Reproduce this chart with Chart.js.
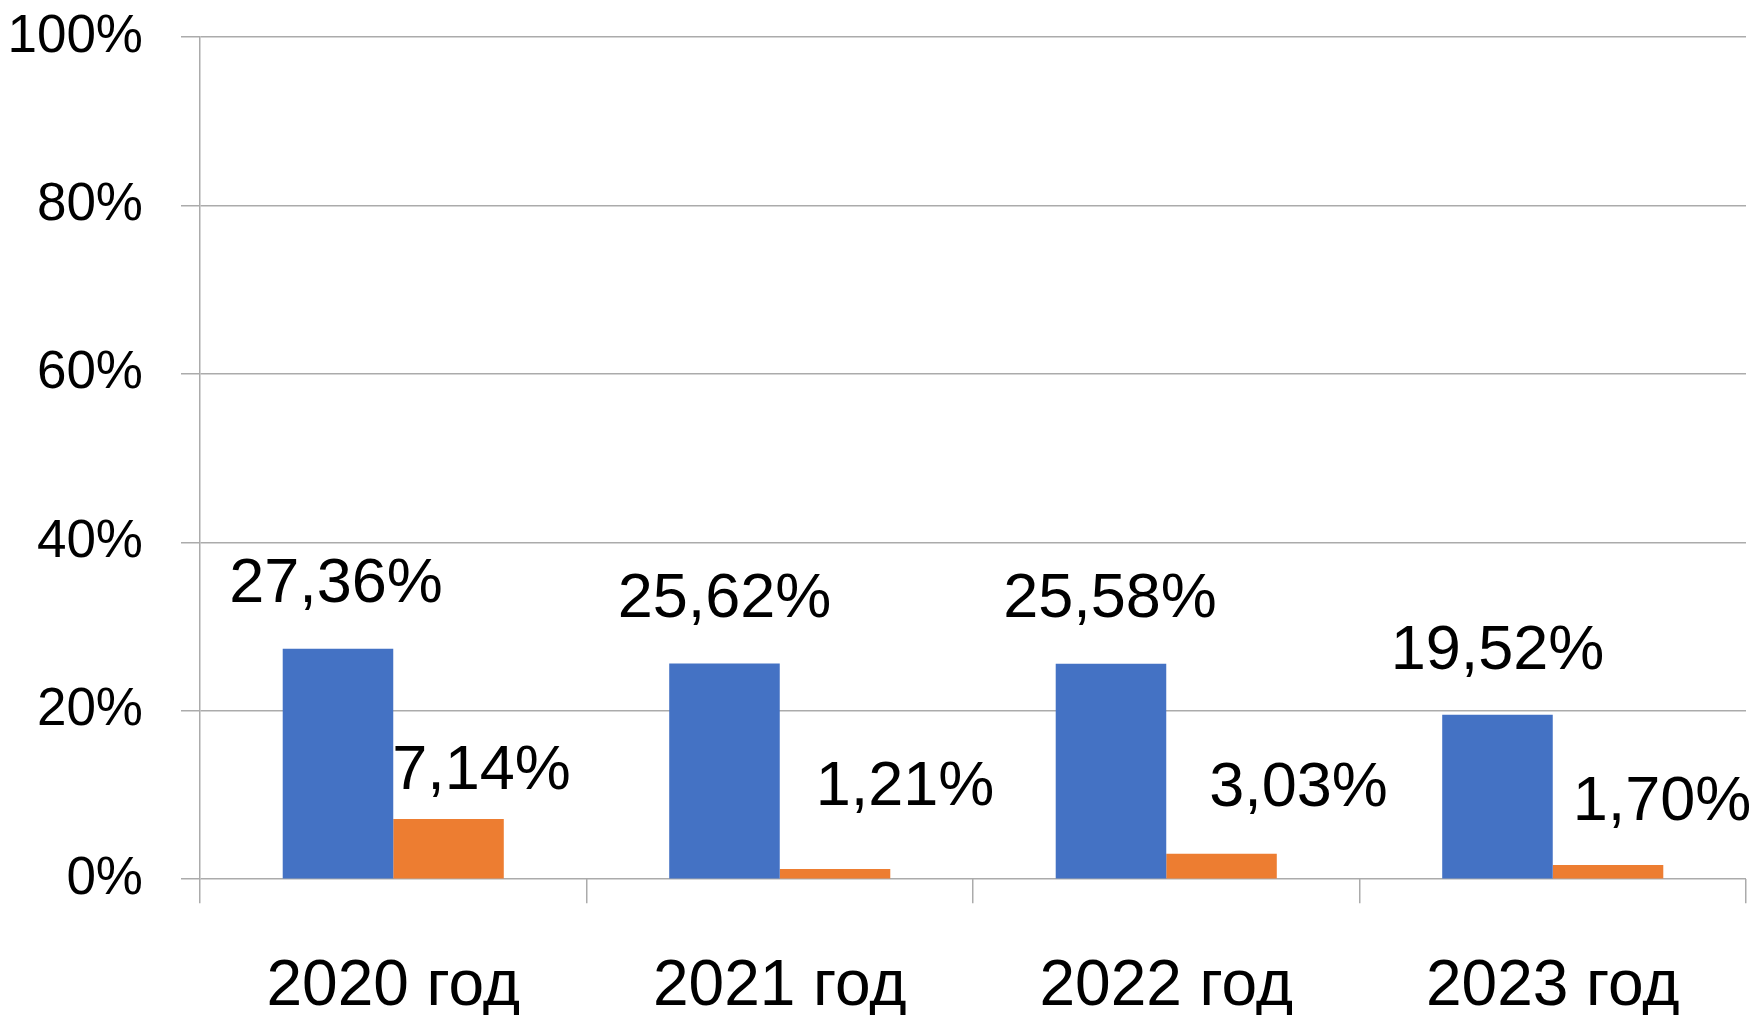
<!DOCTYPE html>
<html lang="ru">
<head>
<meta charset="utf-8">
<title>2020–2023</title>
<script src="https://cdn.jsdelivr.net/npm/chart.js@4/dist/chart.umd.min.js"></script>
<style>
  html, body { margin: 0; padding: 0; background: #fff; overflow: hidden; }
  #chart { display: block; }
</style>
</head>
<body>
<canvas id="chart" width="1756" height="1072"></canvas>
<script>
const years = ['2020 год', '2021 год', '2022 год', '2023 год'];
const blueValues = [27.36, 25.62, 25.58, 19.52];
const orangeValues = [7.14, 1.21, 3.03, 1.70];
const yTicks = [0, 20, 40, 60, 80, 100];

// hand-placed value labels: [dx, dy] from the top centre of each bar
const blueLabelShift = [[-2, -64], [0, -64], [-1, -64], [0, -63]];
const orangeLabelShift = [[33, -47], [70, -81], [77, -65], [54, -62]];

const fmt = v => v.toFixed(2).replace('.', ',') + '%';

const valueLabels = {
    id: 'valueLabels',
    afterDatasetsDraw(chart) {
        const ctx = chart.ctx;
        const shifts = [blueLabelShift, orangeLabelShift];
        ctx.save();
        ctx.font = '63px "Liberation Sans", Arial, sans-serif';
        ctx.fillStyle = '#000';
        ctx.textAlign = 'center';
        ctx.textBaseline = 'middle';
        chart.data.datasets.forEach((ds, i) => {
            chart.getDatasetMeta(i).data.forEach((bar, j) => {
                const [dx, dy] = shifts[i][j];
                ctx.fillText(fmt(ds.data[j]), bar.x + dx, bar.y + dy);
            });
        });
        ctx.restore();
    }
};

Chart.defaults.font.family = '"Liberation Sans", Arial, sans-serif';
Chart.defaults.color = '#000';

new Chart(document.getElementById('chart').getContext('2d'), {
    type: 'bar',
    data: {
        labels: years,
        datasets: [{
            data: blueValues,
            backgroundColor: '#4472c4',
        }, {
            data: orangeValues,
            backgroundColor: '#ed7d31',
        }],
    },
    options: {
        responsive: false,
        animation: false,
        categoryPercentage: 0.572,
        barPercentage: 1.0,
        layout: {
            padding: { top: 37, right: 10, left: 0, bottom: 0 }
        },
        plugins: {
            legend: { display: false },
            tooltip: { enabled: false },
        },
        scales: {
            x: {
                afterFit(scale) {
                    scale.paddingLeft = 0;
                    scale.paddingRight = 0;
                },
                grid: {
                    offset: true,
                    drawOnChartArea: false,
                    tickLength: 24,
                    color: '#ababab',
                    lineWidth: 1.5,
                },
                border: { display: false },
                ticks: {
                    font: { size: 64 },
                    padding: 46,
                    maxRotation: 0,
                },
            },
            y: {
                min: 0,
                max: 100,
                afterFit(scale) {
                    scale.width = 200;
                    scale.paddingTop = 0;
                    scale.paddingBottom = 0;
                },
                afterBuildTicks(scale) { scale.ticks = yTicks.map(v => ({ value: v })); },
                grid: {
                    color: '#ababab',
                    lineWidth: 1.5,
                    tickLength: 19,
                },
                border: { color: '#ababab', width: 1.5 },
                ticks: {
                    font: { size: 53 },
                    padding: 38,
                    callback: v => v + '%',
                },
            },
        },
    },
    plugins: [valueLabels],
});
</script>
</body>
</html>
